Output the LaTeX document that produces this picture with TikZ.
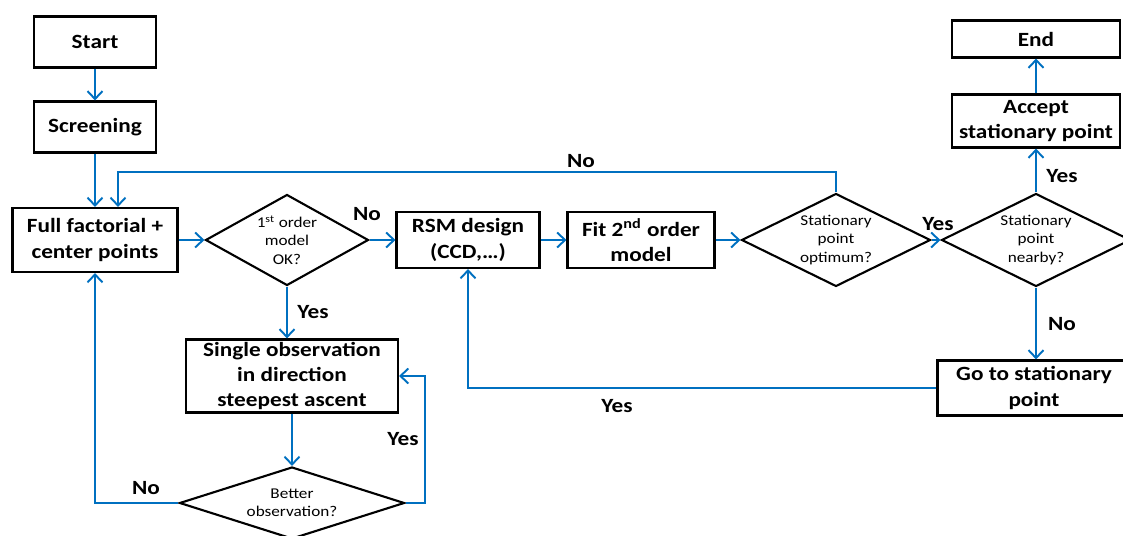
\documentclass[tikz,border=0pt]{standalone}
\usepackage{fontspec}
\setmainfont{Carlito}[FakeStretch=1.15]
\usetikzlibrary{shapes.geometric,arrows.meta}
\definecolor{flowblue}{RGB}{0,112,192}

\begin{document}
\begin{tikzpicture}[x=0.02cm,y=-0.02cm,
  box/.style={draw,line width=1.2pt,align=center,inner sep=0pt,font=\fontsize{11.5}{14.4}\selectfont\bfseries},
  decision/.style={draw,diamond,line width=1.2pt,align=center,inner sep=0pt,aspect=2,font=\fontsize{8.5}{10.5}\selectfont},
  flow/.style={draw=flowblue,line width=1.1pt,-{Straight Barb[length=4.5pt,width=8.5pt]}},
  link/.style={draw=flowblue,line width=1.1pt},
  lbl/.style={font=\fontsize{11.5}{14.4}\selectfont\bfseries}]
\useasboundingbox (0,0) rectangle (1123,536);
\clip (0,0) rectangle (1123,536);

\node[box,minimum width=2.44cm,minimum height=1.02cm] (start) at (95,42) {Start};
\node[box,minimum width=2.44cm,minimum height=1.02cm] (screen) at (95,127) {Screening};
\node[box,minimum width=3.3cm,minimum height=1.28cm] (full) at (95,240) {Full factorial +\\center points};
\node[decision,minimum width=3.26cm,minimum height=1.82cm] (dec1) at (287,240) {1\textsuperscript{st} order\\model\\OK?};
\node[box,minimum width=2.86cm,minimum height=1.12cm] (rsm) at (468,240) {RSM design\\(CCD,…)};
\node[box,minimum width=2.94cm,minimum height=1.12cm] (fit) at (641,240) {Fit 2\textsuperscript{nd} order\\model};
\node[decision,minimum width=3.78cm,minimum height=1.86cm] (dec2) at (836,240) {Stationary\\point\\optimum?};
\node[decision,minimum width=3.78cm,minimum height=1.86cm] (dec3) at (1036,240) {Stationary\\point\\nearby?};
\node[box,minimum width=3.36cm,minimum height=1.06cm] (accept) at (1036,121) {Accept\\stationary point};
\node[box,minimum width=3.36cm,minimum height=0.74cm] (end) at (1036,39) {End};
\node[box,minimum width=3.86cm,minimum height=1.1cm] (goto) at (1034,388) {Go to stationary\\point};
\node[box,minimum width=4.24cm,minimum height=1.46cm] (single) at (292,376) {Single observation\\in direction\\steepest ascent};
\node[decision,minimum width=4.5cm,minimum height=1.44cm,aspect=3] (better) at (292,503) {Better\\observation?};

\coordinate (fb) at (118,172);
\coordinate (yr) at (425,503);

\draw[flow] (start) -- (screen);
\draw[flow] (screen) -- (full);
\draw[flow] (full) -- (dec1);
\draw[flow] (dec1) -- (rsm);
\draw[flow] (rsm) -- (fit);
\draw[flow] (fit) -- (dec2);
\draw[flow] (dec2) -- (dec3);
\draw[flow] (dec3) -- (accept);
\draw[flow] (accept) -- (end);
\draw[flow] (dec3.south) -- (dec3.south |- goto.north);
\draw[flow] (goto.west) -| (rsm.south);
\draw[flow] (dec2.north) |- (fb) -- (fb |- full.north);
\draw[flow] (dec1.south) -- (dec1.south |- single.north);
\draw[flow] (single) -- (better);
\draw[flow] (better.west) -| (full.south);
\draw[flow] (better.east) -- (yr) |- (single.east);

\node[lbl] (noA) at (367,214) {No};
\node[lbl] (noB) at (581,161) {No};
\node[lbl] (yesA) at (938,224) {Yes};
\node[lbl] (yesB) at (1062,176) {Yes};
\node[lbl] (noC) at (1062,324) {No};
\node[lbl] (yesC) at (617,406) {Yes};
\node[lbl] (yesD) at (313,312) {Yes};
\node[lbl] (yesE) at (403,439) {Yes};
\node[lbl] (noD) at (146,488) {No};
\end{tikzpicture}
\end{document}
